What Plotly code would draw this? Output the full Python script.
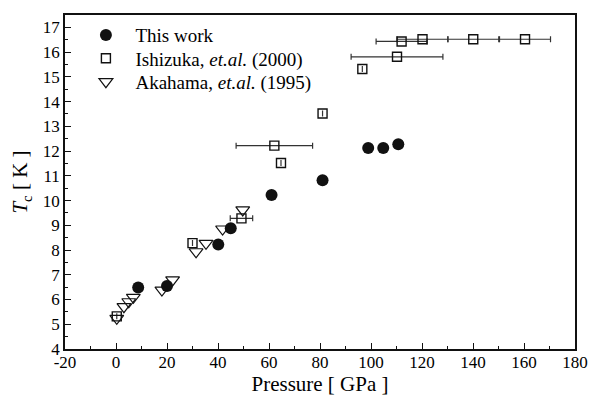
import plotly.graph_objects as go

# This work (filled circles)
this_p = [8.7, 20.0, 40.1, 45.0, 61.0, 81.0, 98.9, 104.8, 110.7]
this_tc = [6.49, 6.55, 8.22, 8.88, 10.22, 10.82, 12.12, 12.12, 12.28]

# Ishizuka et al. (2000) (open squares)
ish_p = [0.3, 30.0, 49.2, 62.1, 64.7, 81.0, 96.6, 110.2, 112.0, 120.2, 140.1, 160.4]
ish_tc = [5.32, 8.28, 9.28, 12.22, 11.52, 13.52, 15.32, 15.81, 16.43, 16.52, 16.52, 16.52]
ish_err = [None, None, 4.4, 15.0, None, None, None, 18.0, 10.0, 10.0, 10.0, 10.0]

# Akahama et al. (1995) (open down triangles)
aka_p = [0.3, 3.1, 5.0, 6.8, 18.0, 22.2, 31.4, 35.3, 41.8, 49.7]
aka_tc = [5.24, 5.71, 5.91, 6.09, 6.38, 6.79, 7.93, 8.27, 8.85, 9.62]

x_ticks = [-20, 0, 20, 40, 60, 80, 100, 120, 140, 160, 180]
x_ticktext = ["-20", "0", "20", "40", "60", "80", "100", "120", "140", "160", "180"]
y_ticks = list(range(4, 18))

FONT = "Liberation Serif, Times New Roman, DejaVu Serif, serif"
INK = "#111111"
PAD = "\u00a0\u00a0"

fig = go.Figure()

fig.add_trace(go.Scatter(
    x=this_p, y=this_tc, mode="markers", name=PAD + "This work", legend="legend",
    marker=dict(symbol="circle", size=12, color=INK, line=dict(width=0)),
))
fig.add_trace(go.Scatter(
    x=ish_p, y=ish_tc, mode="markers", name=PAD + "Ishizuka, <i>et.al.</i> (2000)", legend="legend2",
    marker=dict(symbol="square-open", size=9, color=INK, line=dict(width=1.4)),
    error_x=dict(type="data", array=ish_err, symmetric=True, color="#333333",
                 thickness=1.2, width=3),
))
fig.add_trace(go.Scatter(
    x=aka_p, y=aka_tc, mode="markers", name=PAD + "Akahama, <i>et.al.</i> (1995)", legend="legend3",
    marker=dict(symbol="triangle-down-open", size=12, color=INK, line=dict(width=1.2)),
))

axis_common = dict(
    showline=True, linecolor=INK, linewidth=1.6, mirror=True,
    ticks="inside", tickcolor=INK, tickwidth=1.4, ticklen=6,
    showgrid=False, zeroline=False, automargin=False,
    tickfont=dict(family=FONT, size=17, color="black"),
)

fig.update_xaxes(
    range=[-20, 180], tickvals=x_ticks, ticktext=x_ticktext, ticklabelstandoff=-3,
    minor=dict(ticks="inside", dtick=10, ticklen=3, tickcolor=INK, tickwidth=1.4, showgrid=False),
    title=dict(text="Pressure [ GPa ]", font=dict(family=FONT, size=21, color="black"), standoff=12),
    **axis_common,
)
fig.update_yaxes(
    range=[4, 17.5], tickvals=y_ticks,
    minor=dict(ticks="inside", dtick=0.5, ticklen=3, tickcolor=INK, tickwidth=1.4, showgrid=False),
    title=dict(text="\u00a0\u00a0\u00a0<i>T</i><sub>c</sub> [ K ]", font=dict(family=FONT, size=21, color="black"), standoff=9),
    **axis_common,
)

leg_common = dict(
    xanchor="left", yanchor="middle", x=0.041,
    bgcolor="rgba(0,0,0,0)", borderwidth=0,
    font=dict(family=FONT, size=19, color="black"),
    itemwidth=30,
)

fig.update_layout(
    width=591, height=396,
    margin=dict(l=65, r=16, t=15, b=47),
    paper_bgcolor="white", plot_bgcolor="white",
    font=dict(family=FONT, color="black"),
    showlegend=True,
    legend=dict(y=0.940, **leg_common),
    legend2=dict(y=0.870, **leg_common),
    legend3=dict(y=0.800, **leg_common),
)

fig.write_html("out.html")
